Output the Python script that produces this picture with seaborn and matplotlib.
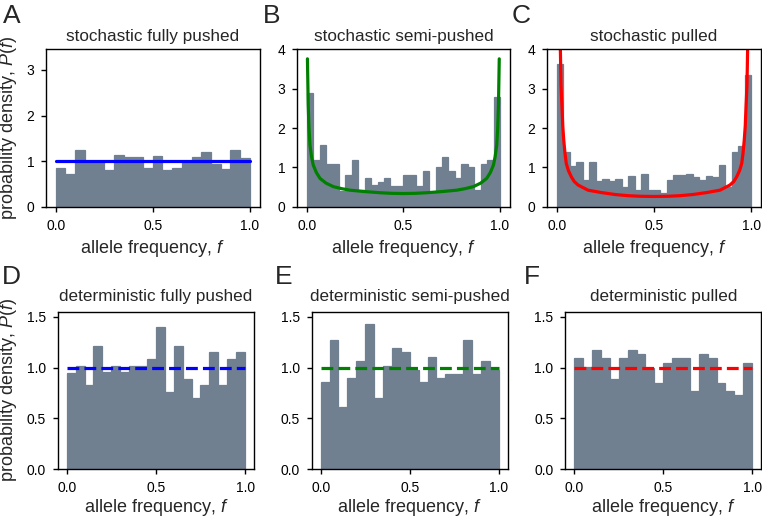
import numpy as np
import pandas as pd
import matplotlib
matplotlib.use("Agg")
import matplotlib.pyplot as plt
import seaborn as sns

# ---------------- data ----------------
titles = ["stochastic fully pushed", "stochastic semi-pushed", "stochastic pulled",
          "deterministic fully pushed", "deterministic semi-pushed", "deterministic pulled"]
letters = ["A", "B", "C", "D", "E", "F"]

stoch_pushed = [0.85, 0.72, 1.25, 1.00, 1.00, 0.80, 1.14, 1.08, 1.08, 0.85,
                1.11, 0.80, 0.85, 1.00, 1.08, 1.19, 0.93, 0.82, 1.25, 1.06]
stoch_semi = [2.88, 1.19, 1.56, 1.08, 1.08, 0.40, 0.80, 1.19, 0.42, 0.72,
              0.55, 0.62, 0.72, 0.53, 0.53, 0.80, 0.80, 0.53, 0.90, 0.36,
              1.00, 1.27, 0.90, 0.72, 1.08, 1.00, 0.42, 1.08, 1.19, 2.78]
stoch_pulled = [3.64, 1.38, 1.03, 1.13, 0.69, 1.13, 0.65, 0.71, 0.65, 0.71,
                0.49, 0.78, 0.42, 0.84, 0.42, 0.42, 0.36, 0.69, 0.81, 0.81,
                0.84, 0.75, 0.69, 0.78, 0.75, 1.07, 0.50, 1.38, 1.54, 3.34]
det_pushed = [0.95, 1.02, 0.83, 1.21, 0.96, 1.02, 0.96, 1.02, 1.02, 1.08,
              1.40, 0.76, 1.21, 0.89, 0.70, 0.83, 1.15, 0.83, 1.08, 1.15]
det_semi = [0.86, 1.27, 0.61, 0.90, 1.07, 1.43, 0.70, 1.02, 1.19, 1.15,
            0.98, 0.86, 1.10, 0.90, 0.94, 0.94, 1.27, 0.94, 1.07, 0.98]
det_pulled = [1.09, 1.01, 1.17, 1.09, 0.89, 1.09, 1.17, 1.13, 1.00, 0.85,
              1.05, 1.09, 1.09, 0.77, 1.13, 1.09, 0.85, 0.77, 0.73, 1.05]

# theory curves
uniform_f = [0.0, 1.0]
uniform_p = [1.0, 1.0]
semi_f = [0.004, 0.008, 0.012, 0.017, 0.025, 0.034, 0.05, 0.069, 0.10, 0.138,
          0.18, 0.224, 0.30, 0.38, 0.44, 0.50, 0.56, 0.62, 0.70, 0.776,
          0.82, 0.862, 0.90, 0.931, 0.95, 0.966, 0.975, 0.983, 0.988, 0.992, 0.996]
semi_p = [3.76, 2.60, 2.00, 1.57, 1.28, 1.06, 0.87, 0.72, 0.60, 0.51,
          0.46, 0.42, 0.385, 0.355, 0.34, 0.335, 0.34, 0.355, 0.385, 0.42,
          0.46, 0.51, 0.60, 0.72, 0.87, 1.06, 1.28, 1.57, 2.00, 2.60, 3.76]
pulled_f = [0.012, 0.0187, 0.022, 0.027, 0.031, 0.036, 0.042, 0.049, 0.06, 0.075,
            0.09, 0.11, 0.161, 0.229, 0.30, 0.366, 0.43, 0.50, 0.57, 0.634,
            0.70, 0.771, 0.839, 0.89, 0.91, 0.925, 0.94, 0.951, 0.958, 0.964,
            0.969, 0.973, 0.978, 0.9813, 0.988]
pulled_p = [6.0, 4.0, 3.10, 2.54, 2.05, 1.70, 1.38, 1.10, 0.92, 0.76,
            0.64, 0.55, 0.42, 0.36, 0.31, 0.28, 0.265, 0.26, 0.265, 0.28,
            0.31, 0.36, 0.42, 0.55, 0.64, 0.76, 0.92, 1.10, 1.38, 1.70,
            2.05, 2.54, 3.10, 4.0, 6.0]

hist_data = [stoch_pushed, stoch_semi, stoch_pulled, det_pushed, det_semi, det_pulled]
curve_colors = ["#0000ff", "#008000", "#ff0000", "#0000ff", "#008000", "#ff0000"]
curves = [(uniform_f, uniform_p, "-"), (semi_f, semi_p, "-"), (pulled_f, pulled_p, "-"),
          (uniform_f, uniform_p, "--"), (uniform_f, uniform_p, "--"), (uniform_f, uniform_p, "--")]
ylims = [3.45, 4.0, 4.0, 1.55, 1.55, 1.55]
yticks = [[0, 1, 2, 3], [0, 1, 2, 3, 4], [0, 1, 2, 3, 4],
          [0.0, 0.5, 1.0, 1.5], [0.0, 0.5, 1.0, 1.5], [0.0, 0.5, 1.0, 1.5]]
yticklabels = [["0", "1", "2", "3"], ["0", "1", "2", "3", "4"], ["0", "1", "2", "3", "4"],
               ["0.0", "0.5", "1.0", "1.5"], ["0.0", "0.5", "1.0", "1.5"], ["0.0", "0.5", "1.0", "1.5"]]
xticks = [0.0, 0.5, 1.0]
xticklabels = ["0.0", "0.5", "1.0"]

# ---------------- style ----------------
sns.set_theme(style="ticks")
plt.rcParams["font.family"] = ["Liberation Sans", "DejaVu Sans"]
plt.rcParams["mathtext.fontset"] = "custom"
plt.rcParams["mathtext.rm"] = "Liberation Sans"
plt.rcParams["mathtext.it"] = "Liberation Sans:italic"
plt.rcParams["axes.edgecolor"] = "black"
plt.rcParams["axes.linewidth"] = 1.0
plt.rcParams["xtick.color"] = "black"
plt.rcParams["ytick.color"] = "black"
plt.rcParams["xtick.major.size"] = 3.5
plt.rcParams["ytick.major.size"] = 3.5
plt.rcParams["xtick.major.width"] = 1.0
plt.rcParams["ytick.major.width"] = 1.0
plt.rcParams["xtick.major.pad"] = 5
plt.rcParams["ytick.major.pad"] = 5

W, H = 762, 519
fig = plt.figure(figsize=(W / 100, H / 100), dpi=100)

# axes boxes in pixels: left, right, top, bottom
boxes = [(46, 259.5, 49.4, 206.7), (297, 509.7, 49.4, 206.7), (547, 761, 49.4, 206.7),
         (57.8, 254, 311.7, 469.3), (311.8, 507.6, 311.7, 469.3), (565.4, 761, 311.7, 469.3)]

bar_color = "#708090"

for i in range(6):
    l, r, t, b = boxes[i]
    ax = fig.add_axes([l / W, 1 - b / H, (r - l) / W, (b - t) / H])
    vals = hist_data[i]
    n = len(vals)
    centers = [(k + 0.5) / n for k in range(n)]
    df = pd.DataFrame({"f": centers, "p": vals})
    sns.histplot(data=df, x="f", weights="p", bins=n, binrange=(0, 1), ax=ax,
                 color=bar_color, alpha=1.0, edgecolor=bar_color, linewidth=0.9,
                 stat="count")
    cf, cp, ls = curves[i]
    sns.lineplot(x=cf, y=cp, ax=ax, color=curve_colors[i], linewidth=2.3,
                 linestyle=ls, sort=False)
    ax.set_xlim(-0.05, 1.05)
    ax.set_ylim(0, ylims[i])
    ax.set_xticks(xticks)
    ax.set_xticklabels(xticklabels)
    ax.set_yticks(yticks[i])
    ax.set_yticklabels(yticklabels[i])
    ax.tick_params(labelsize=10)
    ax.set_xlabel("allele frequency, $f$", fontsize=13, labelpad=4 if i < 3 else 1.5)
    ax.set_ylabel("")
    ax.set_title(titles[i], fontsize=12.3, pad=6 if i < 3 else 7.5)
    for sp in ax.spines.values():
        sp.set_visible(True)
        sp.set_color("black")

# y labels
for yc in [(49.4 + 206.7) / 2, (311.7 + 469.3) / 2]:
    fig.text(9 / W, 1 - yc / H, "probability density, $P(f)$", rotation=90,
             ha="center", va="center", fontsize=13)

# panel letters
letter_pos = [(11.5, 16), (272, 16), (521, 16), (11, 277), (283.5, 277), (531.5, 277)]
for (x, y), s in zip(letter_pos, letters):
    fig.text(x / W, 1 - y / H, s, ha="center", va="center", fontsize=19)

fig.savefig("out.png", dpi=100)
